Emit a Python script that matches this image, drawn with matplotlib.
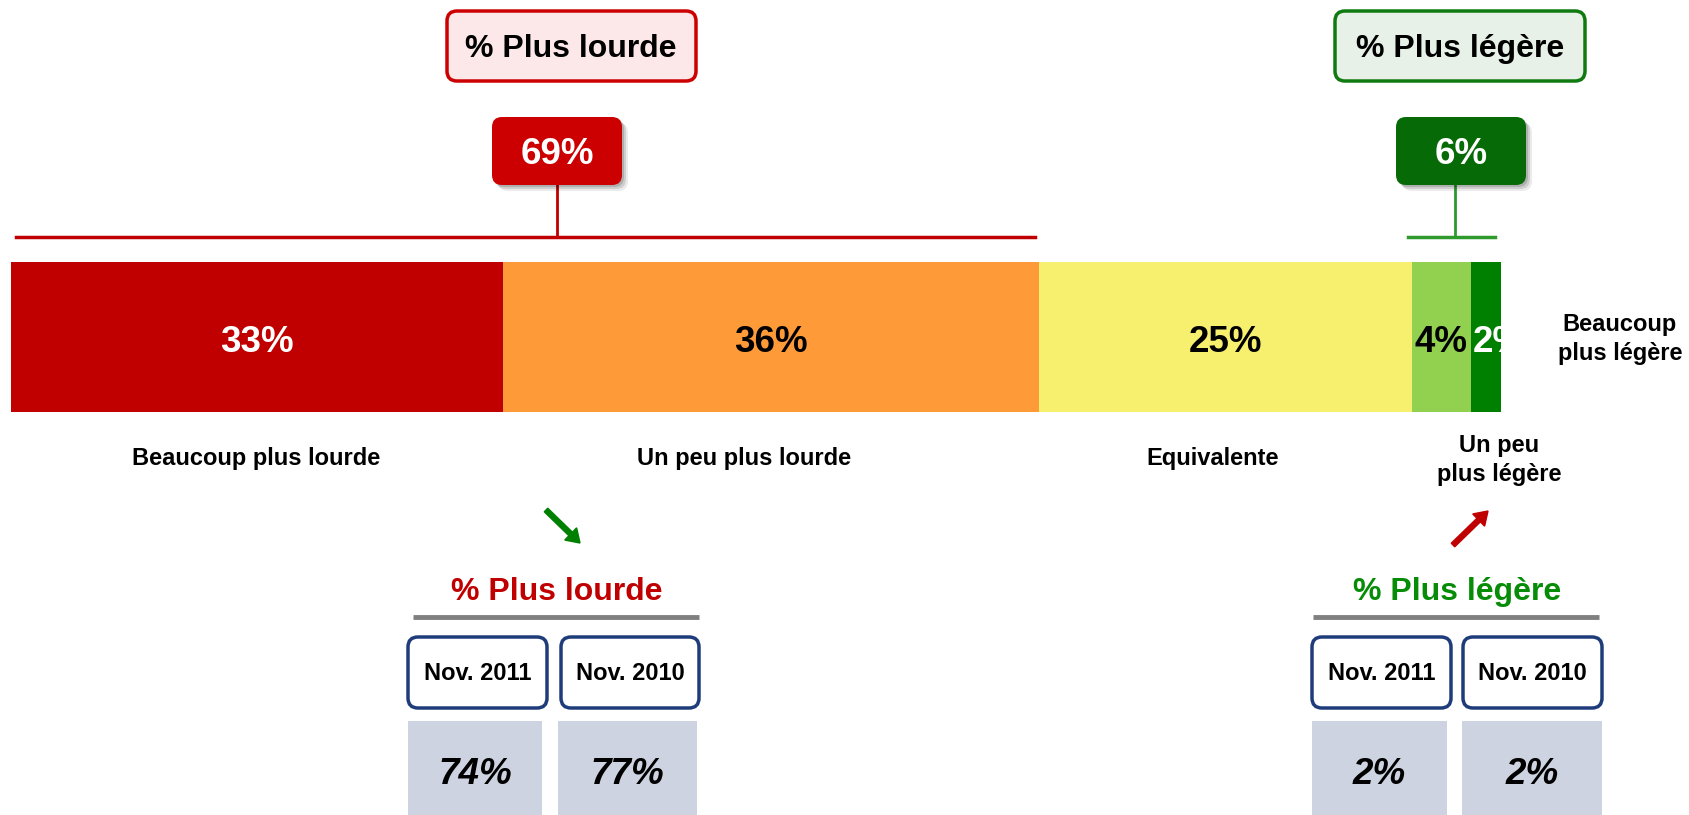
import matplotlib.pyplot as plt
from matplotlib.patches import FancyBboxPatch, Rectangle
import numpy as np

plt.rcParams['font.family'] = ['Liberation Sans', 'DejaVu Sans']

# Données
categories = ['Beaucoup plus lourde', 'Un peu plus lourde', 'Equivalente',
              'Un peu\nplus légère', 'Beaucoup\nplus légère']
valeurs = [33, 36, 25, 4, 2]
couleurs = ['#C00000', '#FF9A38', '#F7F06E', '#92D050', '#008000']
couleurs_texte = ['white', 'black', 'black', 'black', 'white']

periodes = ['Nov. 2011', 'Nov. 2010']
lourde_hist = [74, 77]
legere_hist = [2, 2]

plus_lourde = valeurs[0] + valeurs[1]
plus_legere = valeurs[3] + valeurs[4]

fig = plt.figure(figsize=(16.9, 8.15), dpi=100)

# Barre empilée
axb = fig.add_axes([11 / 1690, (815 - 412) / 815, 1490 / 1690, 150 / 815])
gauche = np.concatenate([[0], np.cumsum(valeurs)[:-1]])
axb.barh(0, valeurs, left=gauche, height=1, color=couleurs, edgecolor='none')
axb.set_xlim(0, 100)
axb.set_ylim(-0.5, 0.5)
axb.axis('off')
for i, (g, v) in enumerate(zip(gauche, valeurs)):
    if i == len(valeurs) - 1:
        axb.text(g + 0.1, -0.04, f'{v}%', ha='left', va='center', fontsize=26.5,
                 fontweight='bold', color=couleurs_texte[i], clip_on=True)
    else:
        axb.text(g + v / 2, -0.04, f'{v}%', ha='center', va='center', fontsize=26.5,
                 fontweight='bold', color=couleurs_texte[i], clip_on=True)

# Calque des annotations (coordonnées en pixels)
ax = fig.add_axes([0, 0, 1, 1])
ax.set_xlim(0, 1690)
ax.set_ylim(815, 0)
ax.axis('off')


def boite(x0, y0, x1, y1, fc, ec, lw=2.5, r=10, z=3):
    p = FancyBboxPatch((x0, y0), x1 - x0, y1 - y0,
                       boxstyle=f'round,pad=0,rounding_size={r}',
                       fc=fc, ec=ec, lw=lw, zorder=z)
    ax.add_patch(p)


def ombre(x0, y0, x1, y1):
    for k, a in [(6, 0.08), (4, 0.12), (2, 0.15)]:
        boite(x0 + k, y0 + k, x1 + k, y1 + k, (0, 0, 0, a), 'none', lw=0, z=2)


# Bloc "plus lourde"
boite(447, 11, 696, 81, '#FCE8E8', '#CC0000')
ax.text(571, 49, '% Plus lourde', ha='center', va='center', fontsize=23,
        fontweight='bold', color='black', zorder=4)
ombre(492, 117, 622, 185)
boite(492, 117, 622, 185, '#CC0000', 'none', lw=0)
ax.text(557, 155, f'{plus_lourde}%', ha='center', va='center', fontsize=26.5,
        fontweight='bold', color='white', zorder=4)
ax.plot([557, 557], [185, 237], color='#C00000', lw=2, zorder=1)
ax.plot([16, 1035], [237, 237], color='#C00000', lw=2.5, zorder=1)

# Bloc "plus légère"
boite(1335, 11, 1585, 81, '#E8F1E8', '#0F7A0F')
ax.text(1460, 49, '% Plus légère', ha='center', va='center', fontsize=23,
        fontweight='bold', color='black', zorder=4)
ombre(1396, 117, 1526, 185)
boite(1396, 117, 1526, 185, '#066B06', 'none', lw=0)
ax.text(1461, 155, f'{plus_legere}%', ha='center', va='center', fontsize=26.5,
        fontweight='bold', color='white', zorder=4)
ax.plot([1455, 1455], [185, 237], color='#2E9A2E', lw=2, zorder=1)
ax.plot([1408, 1495], [237, 237], color='#2E9A2E', lw=2.5, zorder=1)

# Libellés des catégories
pos_labels = [(256, 458), (744, 458), (1213, 458), (1499, 460), (1620, 339)]
for lab, (x, y) in zip(categories, pos_labels):
    ax.text(x, y, lab, ha='center', va='center', fontsize=17,
            fontweight='bold', color='black', linespacing=1.3)

# Flèches d'évolution
ax.arrow(546, 510, 34, 33, width=5, head_width=17, head_length=13,
         length_includes_head=True, color='#008000', zorder=3)
ax.arrow(1453, 545, 35, -34, width=5, head_width=17, head_length=13,
         length_includes_head=True, color='#C00000', zorder=3)

# Historiques
blocs = [
    ('% Plus lourde', '#C00000', 557, (413, 699), [(408, 547), (561, 699)],
     [(408, 542), (558, 697)], lourde_hist),
    ('% Plus légère', '#078C07', 1457, (1313, 1599), [(1312, 1451), (1463, 1602)],
     [(1312, 1447), (1462, 1602)], legere_hist),
]
for titre, col, xc, (l0, l1), entetes, cases, vals in blocs:
    ax.text(xc, 592, titre, ha='center', va='center', fontsize=23,
            fontweight='bold', color=col)
    ax.plot([l0, l1], [617, 617], color='#808080', lw=3.5, solid_capstyle='butt')
    for (x0, x1), per in zip(entetes, periodes):
        boite(x0, 637, x1, 708, 'white', '#1F3C7A', lw=2.5, r=10)
        ax.text((x0 + x1) / 2, 674, per, ha='center', va='center', fontsize=17,
                fontweight='bold', color='black', zorder=4)
    for (x0, x1), v in zip(cases, vals):
        ax.add_patch(Rectangle((x0, 721), x1 - x0, 120, fc='#CDD3E0', ec='none'))
        ax.text((x0 + x1) / 2, 774, f'{v}%', ha='center', va='center', fontsize=26.5,
                fontweight='bold', fontstyle='italic', color='black')

fig.savefig('out.png', dpi=100)
